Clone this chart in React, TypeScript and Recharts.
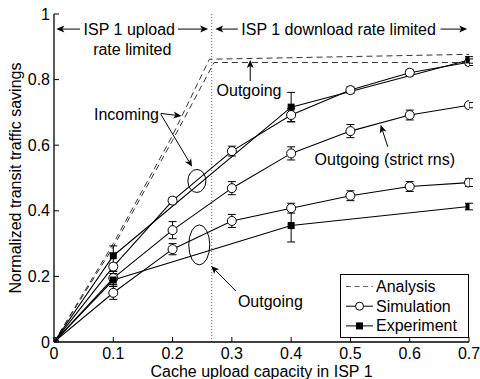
import React from 'react';
import { LineChart, Line, XAxis, YAxis, ErrorBar, ReferenceLine, ReferenceDot, Legend } from 'recharts';

const FONT = '"Liberation Sans", Arial, Helvetica, sans-serif';

const X_TICKS = [0, 0.1, 0.2, 0.3, 0.4, 0.5, 0.6, 0.7];
const Y_TICKS = [0, 0.2, 0.4, 0.6, 0.8, 1];

// Analysis (dashed)
const AN_IN_X = [0, 0.1, 0.2, 0.262, 0.7];
const AN_IN_Y = [0, 0.3, 0.63, 0.862, 0.877];
const AN_OUT_X = [0, 0.1, 0.2, 0.27, 0.7];
const AN_OUT_Y = [0, 0.29, 0.615, 0.852, 0.852];

// Simulation (circles)
const SIM_X = [0, 0.1, 0.2, 0.3, 0.4, 0.5, 0.6, 0.7];
const IN_SIM = [0, 0.23, 0.431, 0.582, 0.692, 0.768, 0.821, 0.853];
const IN_SIM_ERR = [0, 0.01, 0.01, 0.015, 0.02, 0.01, 0.01, 0.01];
const STRICT_SIM = [0, 0.195, 0.341, 0.469, 0.575, 0.643, 0.692, 0.722];
const STRICT_ERR = [0, 0.02, 0.026, 0.02, 0.02, 0.02, 0.015, 0.008];
const OUT_SIM = [0, 0.15, 0.283, 0.369, 0.408, 0.446, 0.474, 0.486];
const OUT_SIM_ERR = [0, 0.02, 0.017, 0.02, 0.015, 0.015, 0.015, 0.012];

// Experiment (squares)
const EXP_X = [0, 0.1, 0.4, 0.7];
const IN_EXP = [0, 0.263, 0.716, 0.86];
const IN_EXP_ERR = [0, 0.03, 0.045, 0.01];
const OUT_EXP = [0, 0.189, 0.355, 0.413];
const OUT_EXP_ERR = [0, 0.02, 0.05, 0.01];

const BOUNDARY_X = 0.266;

// Annotations (data coordinates)
const TEXTS = [
  { x: 0.177, y: 0.695, t: 'Incoming', anchor: 'end' },
  { x: 0.329, y: 0.766, t: 'Outgoing', anchor: 'middle' },
  { x: 0.558, y: 0.555, t: 'Outgoing (strict rns)', anchor: 'middle' },
  { x: 0.365, y: 0.122, t: 'Outgoing', anchor: 'middle' },
  { x: 0.127, y: 0.954, t: 'ISP 1 upload', anchor: 'middle' },
  { x: 0.132, y: 0.893, t: 'rate limited', anchor: 'middle' },
  { x: 0.480, y: 0.954, t: 'ISP 1 download rate limited', anchor: 'middle' },
];
const ARROWS = [
  { x1: 0.18, y1: 0.697, x2: 0.215, y2: 0.689 },
  { x1: 0.18, y1: 0.695, x2: 0.233, y2: 0.534 },
  { x1: 0.331, y1: 0.796, x2: 0.331, y2: 0.86 },
  { x1: 0.563, y1: 0.595, x2: 0.551, y2: 0.662 },
  { x1: 0.307, y1: 0.155, x2: 0.265, y2: 0.232 },
  { x1: 0.044, y1: 0.954, x2: 0.004, y2: 0.954 },
  { x1: 0.209, y1: 0.954, x2: 0.26, y2: 0.954 },
  { x1: 0.31, y1: 0.954, x2: 0.272, y2: 0.954 },
  { x1: 0.652, y1: 0.954, x2: 0.697, y2: 0.954 },
];
const ELLIPSES = [
  { x: 0.241, y: 0.491, rx: 9, ry: 11.5 },
  { x: 0.245, y: 0.296, rx: 10.5, ry: 20 },
];

const LEGEND_ITEMS = [
  { name: 'Analysis', kind: 'dash' },
  { name: 'Simulation', kind: 'circle' },
  { name: 'Experiment', kind: 'square' },
];

const zip = (xs: number[], ys: number[], es?: number[]) =>
  xs.map((x, i) => ({ x, y: ys[i], e: es ? es[i] : 0 }));

const CircleDot = (p: any) => (
  <circle key={`c-${p.index}-${p.cx}`} cx={p.cx} cy={p.cy} r={4.5} fill="#fff" stroke="#000" strokeWidth={1} />
);
const SquareDot = (p: any) => (
  <rect key={`s-${p.index}-${p.cx}`} x={p.cx - 3.5} y={p.cy - 3.5} width={7} height={7} fill="#000" />
);

const ArrowShape = (p: any) => {
  const { x1, y1, x2, y2 } = p;
  const ang = Math.atan2(y2 - y1, x2 - x1);
  const L = 8, W = 3.5;
  const bx = x2 - L * Math.cos(ang), by = y2 - L * Math.sin(ang);
  const px = -Math.sin(ang) * W, py = Math.cos(ang) * W;
  return (
    <g>
      <line x1={x1} y1={y1} x2={bx + Math.cos(ang) * 2} y2={by + Math.sin(ang) * 2} stroke="#000" strokeWidth={1} />
      <polygon points={`${x2},${y2} ${bx + px},${by + py} ${bx + 2 * Math.cos(ang)},${by + 2 * Math.sin(ang)} ${bx - px},${by - py}`} fill="#000" />
    </g>
  );
};

const LegendBox = () => (
  <svg width={129} height={64} style={{ display: 'block' }}>
    <rect x={0.5} y={0.5} width={128} height={63} fill="#fff" stroke="#000" strokeWidth={1} />
    {LEGEND_ITEMS.map((it, i) => {
      const cy = 12.5 + i * 19.7;
      return (
        <g key={it.name}>
          {it.kind === 'dash' ? (
            <line x1={6} y1={cy} x2={33} y2={cy} stroke="#666" strokeWidth={1} strokeDasharray="5 3.5" />
          ) : (
            <line x1={6} y1={cy} x2={33} y2={cy} stroke="#000" strokeWidth={1} />
          )}
          {it.kind === 'circle' && <circle cx={19.5} cy={cy} r={4} fill="#fff" stroke="#000" />}
          {it.kind === 'square' && <rect x={16} y={cy - 3.5} width={7} height={7} fill="#000" />}
          <text x={36} y={cy} dominantBaseline="central" fontSize={16} fontFamily={FONT} fill="#000">{it.name}</text>
        </g>
      );
    })}
  </svg>
);

export default function App() {
  return (
    <div style={{ position: 'absolute', left: 0, top: 0, width: 480, height: 379, background: '#fff' }}>
      <LineChart width={480} height={379} margin={{ top: 14, right: 11, left: 0, bottom: 0 }}>
        <XAxis
          dataKey="x"
          type="number"
          domain={[0, 0.7]}
          ticks={X_TICKS}
          tickFormatter={(v: number) => String(v)}
          tickSize={-5}
          tickMargin={11}
          height={37}
          axisLine={{ stroke: '#000', strokeWidth: 1.3 }}
          tickLine={{ stroke: '#000' }}
          tick={{ fill: '#000', fontSize: 16, fontFamily: FONT }}
          allowDataOverflow
          label={(props: any) => {
            const vb = props.viewBox;
            return (
              <text x={vb.x + vb.width / 2} y={376.5} textAnchor="middle" fontSize={16} fontFamily={FONT} fill="#000">
                Cache upload capacity in ISP 1
              </text>
            );
          }}
        />
        <XAxis
          xAxisId="top"
          orientation="top"
          type="number"
          domain={[0, 0.7]}
          ticks={X_TICKS}
          tickSize={-5}
          height={0}
          tick={false}
          axisLine={{ stroke: '#000' }}
          tickLine={{ stroke: '#000' }}
          allowDataOverflow
        />
        <YAxis
          type="number"
          domain={[0, 1]}
          ticks={Y_TICKS}
          tickFormatter={(v: number) => String(v)}
          tickSize={-5}
          tickMargin={9}
          width={54}
          axisLine={{ stroke: '#000', strokeWidth: 1.3 }}
          tickLine={{ stroke: '#000' }}
          tick={{ fill: '#000', fontSize: 16, fontFamily: FONT }}
          allowDataOverflow
          label={(props: any) => {
            const vb = props.viewBox;
            const cy = vb.y + vb.height / 2;
            return (
              <text x={15} y={cy} transform={`rotate(-90 15 ${cy})`} textAnchor="middle" dominantBaseline="central" fontSize={16} fontFamily={FONT} fill="#000">
                Normalized transit traffic savings
              </text>
            );
          }}
        />
        <YAxis
          yAxisId="right"
          orientation="right"
          type="number"
          domain={[0, 1]}
          ticks={Y_TICKS}
          tickSize={-5}
          width={0}
          tick={false}
          axisLine={{ stroke: '#000' }}
          tickLine={{ stroke: '#000' }}
          allowDataOverflow
        />

        <ReferenceLine x={BOUNDARY_X} stroke="#666" strokeDasharray="1 2" strokeWidth={1} />

        <Line data={zip(AN_IN_X, AN_IN_Y)} dataKey="y" stroke="#333" strokeWidth={1} strokeDasharray="6 4" dot={false} isAnimationActive={false} />
        <Line data={zip(AN_OUT_X, AN_OUT_Y)} dataKey="y" stroke="#333" strokeWidth={1} strokeDasharray="6 4" dot={false} isAnimationActive={false} />

        <Line data={zip(SIM_X, IN_SIM, IN_SIM_ERR)} dataKey="y" stroke="#000" strokeWidth={1.1} dot={CircleDot} isAnimationActive={false}>
          <ErrorBar dataKey="e" direction="y" width={4} stroke="#000" strokeWidth={1} />
        </Line>
        <Line data={zip(SIM_X, STRICT_SIM, STRICT_ERR)} dataKey="y" stroke="#000" strokeWidth={1.1} dot={CircleDot} isAnimationActive={false}>
          <ErrorBar dataKey="e" direction="y" width={4} stroke="#000" strokeWidth={1} />
        </Line>
        <Line data={zip(SIM_X, OUT_SIM, OUT_SIM_ERR)} dataKey="y" stroke="#000" strokeWidth={1.1} dot={CircleDot} isAnimationActive={false}>
          <ErrorBar dataKey="e" direction="y" width={4} stroke="#000" strokeWidth={1} />
        </Line>
        <Line data={zip(EXP_X, IN_EXP, IN_EXP_ERR)} dataKey="y" stroke="#000" strokeWidth={1.1} dot={SquareDot} isAnimationActive={false}>
          <ErrorBar dataKey="e" direction="y" width={4} stroke="#000" strokeWidth={1} />
        </Line>
        <Line data={zip(EXP_X, OUT_EXP, OUT_EXP_ERR)} dataKey="y" stroke="#000" strokeWidth={1.1} dot={SquareDot} isAnimationActive={false}>
          <ErrorBar dataKey="e" direction="y" width={4} stroke="#000" strokeWidth={1} />
        </Line>

        {ELLIPSES.map((e, i) => (
          <ReferenceDot
            key={`el${i}`}
            x={e.x}
            y={e.y}
            r={1}
            ifOverflow="visible"
            shape={(p: any) => <ellipse cx={p.cx} cy={p.cy} rx={e.rx} ry={e.ry} fill="none" stroke="#000" strokeWidth={1} />}
          />
        ))}
        {ARROWS.map((a, i) => (
          <ReferenceLine
            key={`ar${i}`}
            segment={[{ x: a.x1, y: a.y1 }, { x: a.x2, y: a.y2 }]}
            ifOverflow="visible"
            shape={ArrowShape}
          />
        ))}
        {TEXTS.map((t, i) => (
          <ReferenceDot
            key={`tx${i}`}
            x={t.x}
            y={t.y}
            r={1}
            ifOverflow="visible"
            shape={(p: any) => (
              <text x={p.cx} y={p.cy} textAnchor={t.anchor as any} dominantBaseline="central" fontSize={16} fontFamily={FONT} fill="#000">
                {t.t}
              </text>
            )}
          />
        ))}

        <Legend
          layout="vertical"
          align="center"
          verticalAlign="middle"
          wrapperStyle={{ left: 340, top: 274, width: 129, height: 64 }}
          content={() => <LegendBox />}
        />
      </LineChart>
    </div>
  );
}
